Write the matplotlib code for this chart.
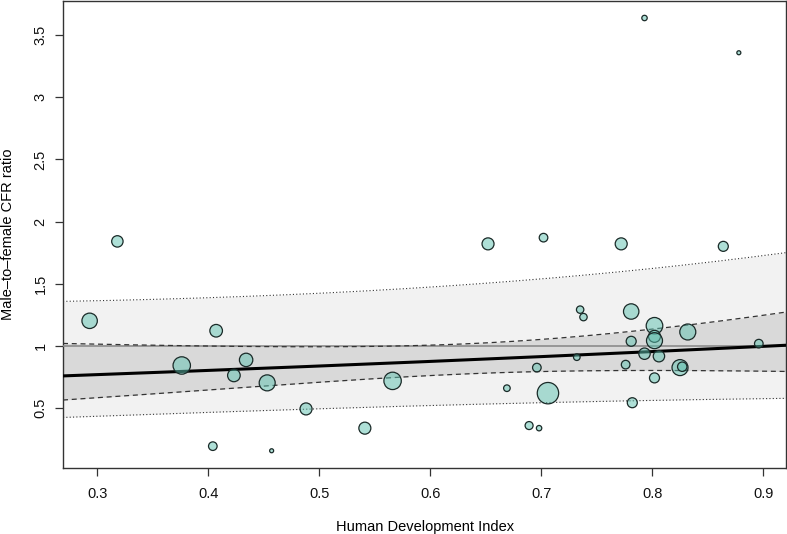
import numpy as np
import matplotlib
matplotlib.use("Agg")
import matplotlib.pyplot as plt

# ---- data ----
hdi = [0.318, 0.293, 0.407, 0.376, 0.423, 0.434, 0.453, 0.404, 0.457, 0.488,
       0.541, 0.566, 0.652, 0.702, 0.696, 0.669, 0.706, 0.689, 0.698, 0.772,
       0.735, 0.738, 0.781, 0.802, 0.802, 0.802, 0.781, 0.732, 0.793, 0.806,
       0.776, 0.802, 0.782, 0.832, 0.896, 0.825, 0.827, 0.864, 0.878, 0.793]
ratio = [1.84, 1.20, 1.12, 0.84, 0.76, 0.885, 0.70, 0.19, 0.153, 0.49,
         0.335, 0.716, 1.82, 1.87, 0.823, 0.657, 0.617, 0.356, 0.335, 1.82,
         1.29, 1.23, 1.275, 1.16, 1.075, 1.04, 1.035, 0.907, 0.935, 0.915,
         0.847, 0.740, 0.54, 1.11, 1.016, 0.823, 0.83, 1.80, 3.36, 3.64]
# relative study weight (marker radius scale)
weight = [5.7, 7.7, 6.3, 8.7, 6.3, 6.7, 8.0, 4.3, 2.0, 6.0,
          6.0, 8.7, 6.0, 4.3, 4.3, 3.3, 10.7, 4.0, 2.7, 6.0,
          3.7, 3.7, 7.7, 8.3, 6.0, 8.0, 5.0, 3.3, 5.7, 5.7,
          4.3, 5.0, 5.0, 8.0, 4.3, 8.0, 4.7, 5.0, 2.0, 2.7]

# meta-regression model on log scale
b0, b1 = -0.3964, 0.434
v00, v01, v11 = 0.05818, -0.08267, 0.12810
tau2 = 0.066
z = 1.96

x_ticks = [0.3, 0.4, 0.5, 0.6, 0.7, 0.8, 0.9]
y_ticks = [0.5, 1, 1.5, 2, 2.5, 3, 3.5]
y_ticklabels = ["0.5", "1", "1.5", "2", "2.5", "3", "3.5"]
xlim = (0.269, 0.9205)
ylim = (0.014, 3.781)

plt.rcParams['font.family'] = ['Liberation Sans', 'DejaVu Sans']

fig = plt.figure(figsize=(7.87, 5.34), dpi=100)
ax = fig.add_axes([63/787, 1-468/534, 723/787, 467.5/534])

xs = np.linspace(xlim[0], xlim[1], 300)
mu = b0 + b1 * xs
se = np.sqrt(v00 + 2*v01*xs + v11*xs**2)
ci_lo, ci_hi = np.exp(mu - z*se), np.exp(mu + z*se)
pse = np.sqrt(se**2 + tau2)
pi_lo, pi_hi = np.exp(mu - z*pse), np.exp(mu + z*pse)

ax.fill_between(xs, pi_lo, pi_hi, color="#f2f2f2", lw=0, zorder=1)
ax.fill_between(xs, ci_lo, ci_hi, color="#d9d9d9", lw=0, zorder=2)
ax.axhline(1, color="#8c8c8c", lw=1.2, zorder=3)
ax.plot(xs, pi_lo, color="#333333", lw=0.8, ls=(0, (1, 2)), zorder=4)
ax.plot(xs, pi_hi, color="#333333", lw=0.8, ls=(0, (1, 2)), zorder=4)
ax.plot(xs, ci_lo, color="#333333", lw=0.9, ls=(0, (4, 3)), zorder=4)
ax.plot(xs, ci_hi, color="#333333", lw=0.9, ls=(0, (4, 3)), zorder=4)
ax.plot(xs, np.exp(mu), color="black", lw=2.2, zorder=5)

sizes = [(1.44 * w) ** 2 for w in weight]
ax.scatter(hdi, ratio, s=sizes, facecolor=(0.37, 0.76, 0.69, 0.5),
           edgecolor="#1a2a28", linewidth=0.9, zorder=6)

ax.set_xlim(*xlim)
ax.set_ylim(*ylim)
ax.set_xticks(x_ticks)
ax.set_xticklabels([str(t) for t in x_ticks])
ax.set_yticks(y_ticks)
ax.set_yticklabels(y_ticklabels, rotation=90, va="center")
ax.tick_params(axis="both", length=6, width=0.9, color="#333333",
               labelsize=10.5, labelcolor="#111111")
ax.tick_params(axis="x", pad=8)
ax.tick_params(axis="y", pad=5)
for sp in ax.spines.values():
    sp.set_color("#333333")
    sp.set_linewidth(1.0)

ax.set_xlabel("Human Development Index", fontsize=10.5, va="center")
ax.xaxis.set_label_coords((425 - 63) / 723, (468 - 527) / 467.5)
ax.set_ylabel("Male\u2013to\u2013female CFR ratio", fontsize=10.5, va="center")
ax.yaxis.set_label_coords((8 - 63) / 723, 0.5)

fig.savefig("out.png", dpi=100)
